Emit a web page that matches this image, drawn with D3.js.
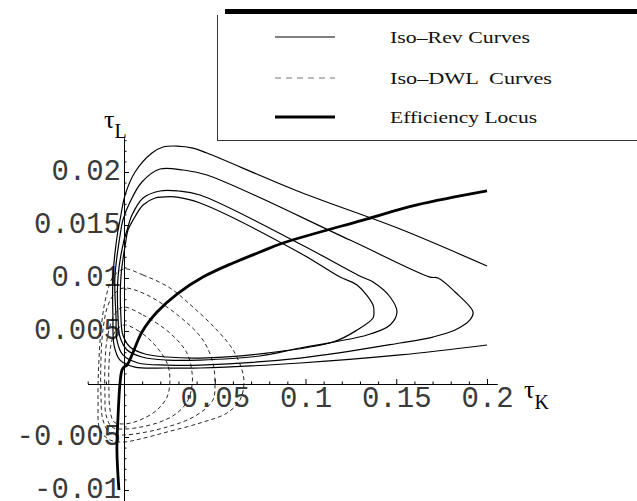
<!DOCTYPE html>
<head>
  <meta charset="utf-8">
  <script src="https://d3js.org/d3.v7.min.js"></script>
  <style type="text/css">
    body { margin: 0; background: #fff; }
    svg { display: block; }
    .tick text { font-family: "Liberation Mono", "Courier New", monospace; font-size: 29px; fill: #3a3a3a; }
    .axis path, .axis line { stroke: #000; stroke-width: 1; }
    .legend text { font-family: "Liberation Serif", "Times New Roman", serif; font-size: 17px; fill: #111; }
  </style>
</head>

<body>
  <script type="text/javascript">
    // tick values / labels
    var xTickVals = [0.05, 0.1, 0.15, 0.2];
    var xTickLabels = ["0.05", "0.1", "0.15", "0.2"];
    var xMinorVals = [-0.02, -0.01, 0.01, 0.02, 0.03, 0.04, 0.06, 0.07, 0.08, 0.09, 0.11, 0.12, 0.13, 0.14, 0.16, 0.17, 0.18, 0.19];
    var yTickVals = [-0.01, -0.005, 0.005, 0.01, 0.015, 0.02];
    var yTickLabels = ["-0.01", "-0.005", "0.005", "0.01", "0.015", "0.02"];
    var yMinorVals = [-0.01, -0.009, -0.008, -0.007, -0.006, -0.004, -0.003, -0.002, -0.001, 0.001, 0.002, 0.003, 0.004,
                      0.006, 0.007, 0.008, 0.009, 0.011, 0.012, 0.013, 0.014, 0.016, 0.017, 0.018, 0.019, 0.021, 0.022, 0.023];

    var legendLabels = ["Iso\u2013Rev Curves", "Iso\u2013DWL  Curves", "Efficiency Locus"];

    // iso-revenue contours (tauK, tauL)
    var revA = [[0.2,0.00368],[0.1521,0.00274],[0.097,0.00198],[0.0419,0.00151],[0.0237,0.00151],[0.0061,0.0016],
      [-0.0022,0.00226],[-0.0055,0.00368],[-0.0061,0.00632],[-0.0061,0.01009],[-0.0033,0.01453],[-0.0022,0.01547],
      [0.0006,0.01783],[0.0061,0.02],[0.0154,0.02179],[0.0215,0.02236],[0.0292,0.02245],[0.038,0.02226],
      [0.0457,0.02179],[0.097,0.01811],[0.1521,0.01462],[0.2,0.01113]];
    var revB = [[0.1923,0.00679],[0.1906,0.00604],[0.1824,0.00509],[0.1702,0.00443],[0.1521,0.00387],[0.097,0.00245],
      [0.0419,0.00179],[0.0237,0.00179],[0.0077,0.00198],[-0.0006,0.00274],[-0.0039,0.00415],[-0.0044,0.00632],
      [-0.005,0.01009],[-0.0017,0.01453],[-0.0006,0.01547],[0.0033,0.01717],[0.0099,0.01906],[0.0198,0.02028],
      [0.0325,0.02019],[0.0457,0.01972],[0.1245,0.01358],[0.1686,0.01009],[0.173,0.01],[0.1824,0.00868]];
    var revC = [[0.1504,0.00679],[0.1466,0.00557],[0.1339,0.00462],[0.097,0.0034],[0.0749,0.00264],[0.0419,0.00226],
      [0.0237,0.00226],[0.0099,0.00255],[0.0017,0.00321],[-0.0022,0.00443],[-0.0033,0.00632],[-0.0033,0.01009],
      [0,0.01358],[0.0017,0.01453],[0.0044,0.01594],[0.0105,0.01755],[0.0198,0.01821],[0.0298,0.01821],
      [0.0419,0.01783],[0.097,0.01321],[0.1311,0.01009],[0.1372,0.00962],[0.1466,0.00821]];
    var revD = [[0.1377,0.00679],[0.1372,0.00623],[0.1284,0.00509],[0.1152,0.00396],[0.0788,0.00292],[0.0419,0.00245],
      [0.0237,0.00255],[0.0116,0.00283],[0.0033,0.00349],[-0.0006,0.00462],[-0.0017,0.00632],[-0.0017,0.01009],
      [0.0011,0.01358],[0.0022,0.01453],[0.005,0.01547],[0.0105,0.01689],[0.0171,0.01755],[0.0215,0.01764],
      [0.0292,0.01764],[0.0419,0.01708],[0.097,0.01236],[0.119,0.01009],[0.1284,0.00934],[0.1372,0.00745]];

    // iso-DWL contours, inner to outer
    var dwl1 = [[0,0.00557],[0.0072,0.00509],[0.016,0.00387],[0.0237,0.00198],[0.0253,0.00038],[0.0237,-0.00123],
      [0.0182,-0.00245],[0.0088,-0.0034],[0,-0.00377],[-0.0055,-0.00358],[-0.0077,-0.00245],[-0.0083,-0.00057],
      [-0.0083,0.00179],[-0.0072,0.00368],[-0.005,0.00491]];
    var dwl2 = [[0,0.00726],[0.0105,0.00651],[0.0253,0.00481],[0.0347,0.00292],[0.0375,0.00104],[0.0375,-0.00009],
      [0.0353,-0.00151],[0.0292,-0.00274],[0.0182,-0.00368],[0,-0.00425],[-0.0066,-0.00406],[-0.0099,-0.00292],
      [-0.0105,-0.00104],[-0.0105,0.00179],[-0.0094,0.00415],[-0.0066,0.00604],[-0.0033,0.00698]];
    var dwl3 = [[0,0.00906],[0.0127,0.0084],[0.0309,0.00632],[0.0435,0.00415],[0.049,0.00198],[0.0501,0.00009],
      [0.049,-0.00151],[0.0402,-0.00292],[0.0237,-0.00406],[0,-0.00481],[-0.0077,-0.00462],[-0.0116,-0.0034],
      [-0.0127,-0.00104],[-0.0127,0.00226],[-0.0116,0.00509],[-0.0088,0.00745],[-0.0044,0.00868]];
    var dwl4 = [[0,0.01085],[0.0105,0.01028],[0.0253,0.00906],[0.038,0.00726],[0.0512,0.00509],[0.0601,0.00321],
      [0.065,0.00132],[0.0661,0.00009],[0.0639,-0.00151],[0.0567,-0.00274],[0.0419,-0.00368],[0.0237,-0.00453],
      [0.0088,-0.00519],[0,-0.00547],[-0.0077,-0.00528],[-0.0132,-0.00434],[-0.0143,-0.00151],[-0.0138,0.00226],
      [-0.0121,0.00604],[-0.0094,0.00858],[-0.0061,0.01009]];

    // efficiency locus
    var effLocus = [[-0.0028,-0.01],[-0.0039,-0.00623],[-0.0033,-0.00311],[-0.0022,0.00009],[-0.0011,0.00132],
      [0,0.0016],[0.0017,0.00179],[0.0044,0.00274],[0.0099,0.00491],[0.0182,0.00679],[0.0292,0.00849],
      [0.0435,0.01009],[0.0601,0.01142],[0.0749,0.01245],[0.0876,0.0133],[0.1317,0.01547],[0.1614,0.01689],[0.2,0.01821]];

    var width = 637, height = 501;

    var svg = d3.select("body").append("svg")
      .attr("width", width)
      .attr("height", height);

    svg.append("rect").attr("width", width).attr("height", height).attr("fill", "#fff");

    var xScale = d3.scaleLinear().domain([-0.02, 0.2055]).range([87.7, 497]);
    var yScale = d3.scaleLinear().domain([-0.011, 0.0232]).range([500.6, 138.1]);

    // x axis (ticks point up, labels below)
    svg.append("g")
      .attr("class", "axis")
      .attr("transform", "translate(0," + yScale(0) + ")")
      .call(d3.axisBottom(xScale).tickValues(xMinorVals).tickSize(-2.5).tickSizeOuter(0).tickFormat(""));
    svg.append("g")
      .attr("class", "axis")
      .attr("transform", "translate(0," + yScale(0) + ")")
      .call(d3.axisBottom(xScale).tickValues(xTickVals).tickSize(-5).tickSizeOuter(0).tickPadding(2.5)
        .tickFormat(function(d, i) { return xTickLabels[i]; }));

    // y axis (ticks point right, labels left)
    svg.append("g")
      .attr("class", "axis")
      .attr("transform", "translate(" + xScale(0) + ",0)")
      .call(d3.axisLeft(yScale).tickValues(yMinorVals).tickSize(-2.5).tickSizeOuter(0).tickFormat(""));
    var yAxisG = svg.append("g")
      .attr("class", "axis")
      .attr("transform", "translate(" + xScale(0) + ",0)")
      .call(d3.axisLeft(yScale).tickValues(yTickVals).tickSize(-5).tickSizeOuter(0).tickPadding(3)
        .tickFormat(function(d, i) { return yTickLabels[i]; }));
    yAxisG.selectAll(".tick text").attr("dy", "0.27em");

    svg.selectAll(".axis .domain").attr("stroke-width", 1.1);

    // axis titles
    var tL = svg.append("text")
      .attr("x", 104).attr("y", 128)
      .style("font-family", "Liberation Serif, serif").style("font-size", "26px");
    tL.append("tspan").text("\u03c4");
    tL.append("tspan").attr("dy", 10).style("font-size", "20px").text("L");

    var tK = svg.append("text")
      .attr("x", 524).attr("y", 398)
      .style("font-family", "Liberation Serif, serif").style("font-size", "26px");
    tK.append("tspan").text("\u03c4");
    tK.append("tspan").attr("dy", 11).style("font-size", "20px").text("K");

    var lineOpen = d3.line()
      .x(function(d) { return xScale(d[0]); })
      .y(function(d) { return yScale(d[1]); })
      .curve(d3.curveCatmullRom.alpha(0.5));
    var lineClosed = d3.line()
      .x(function(d) { return xScale(d[0]); })
      .y(function(d) { return yScale(d[1]); })
      .curve(d3.curveCatmullRomClosed.alpha(0.5));

    // dashed iso-DWL
    svg.selectAll(".dwl")
      .data([dwl1, dwl2, dwl3, dwl4])
      .enter().append("path")
      .attr("class", "dwl")
      .attr("d", lineClosed)
      .attr("fill", "none")
      .attr("stroke", "#111")
      .attr("stroke-width", 0.9)
      .attr("stroke-dasharray", "4,3");

    // iso-rev
    svg.append("path").attr("d", lineOpen(revA))
      .attr("fill", "none").attr("stroke", "#000").attr("stroke-width", 1.2);
    svg.selectAll(".rev")
      .data([revB, revC, revD])
      .enter().append("path")
      .attr("class", "rev")
      .attr("d", lineClosed)
      .attr("fill", "none")
      .attr("stroke", "#000")
      .attr("stroke-width", 1.2);

    // efficiency locus
    svg.append("path").attr("d", lineOpen(effLocus))
      .attr("fill", "none").attr("stroke", "#000").attr("stroke-width", 2.8)
      .attr("stroke-linejoin", "round");

    // legend
    var legend = svg.append("g").attr("class", "legend");
    legend.append("rect").attr("x", 217).attr("y", 15).attr("width", 420).attr("height", 125).attr("fill", "#fff");
    legend.append("rect").attr("x", 225).attr("y", 9).attr("width", 412).attr("height", 5).attr("fill", "#000");
    legend.append("line").attr("x1", 217.5).attr("x2", 217.5).attr("y1", 15).attr("y2", 140.5)
      .attr("stroke", "#333").attr("stroke-width", 1);
    legend.append("line").attr("x1", 217).attr("x2", 637).attr("y1", 140.5).attr("y2", 140.5)
      .attr("stroke", "#333").attr("stroke-width", 1);

    var legY = [37, 78, 117];
    var legStyle = [
      { w: 1.2, dash: null, c: "#000" },
      { w: 1, dash: "6,5", c: "#777" },
      { w: 3, dash: null, c: "#000" }
    ];
    var legLen = [140, 162, 147];
    legendLabels.forEach(function(lab, i) {
      legend.append("line")
        .attr("x1", 275).attr("x2", 335).attr("y1", legY[i]).attr("y2", legY[i])
        .attr("stroke", legStyle[i].c).attr("stroke-width", legStyle[i].w)
        .attr("stroke-dasharray", legStyle[i].dash);
      legend.append("text")
        .attr("x", 390).attr("y", legY[i] + 6)
        .attr("textLength", legLen[i]).attr("lengthAdjust", "spacingAndGlyphs")
        .style("white-space", "pre")
        .text(lab);
    });
  </script>
</body>
